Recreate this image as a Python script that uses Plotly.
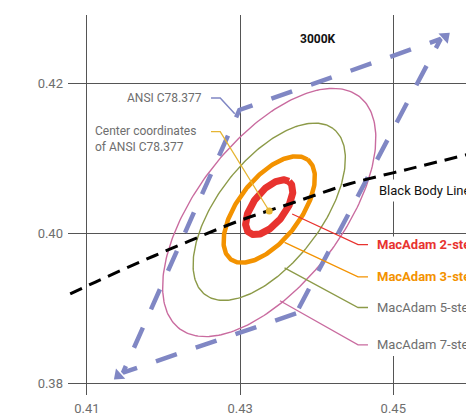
import numpy as np
import plotly.graph_objects as go

# MacAdam ellipse at 3000K (1-step), CIE 1931 xy
center_x = 0.4338
center_y = 0.4030
ell_a = 0.00278
ell_b = 0.00136
ell_theta = 53.22

# ellipses as drawn (outer to inner)
ell_names = ["MacAdam 7-step", "MacAdam 5-step", "MacAdam 3-step", "MacAdam 2-step"]
ell_steps = [7, 5, 3, 1.55]
ell_cy = [0.4028, 0.4029, 0.4032, 0.4035]
ell_colors = ["#c96b9f", "#8c9a48", "#f39200", "#e8332f"]
ell_widths = [1.4, 1.4, 4.5, 7]

# ANSI C78.377 quadrangle, 3000K
quad_x = [0.4373, 0.4147, 0.4299, 0.4562, 0.4373]
quad_y = [0.3893, 0.3814, 0.4165, 0.4260, 0.3893]
arrow_x = [0.4568, 0.4141]
arrow_y = [0.4263, 0.3810]

# Planckian locus (3500K .. 2700K)
bb_x = [0.4053, 0.4111, 0.4172, 0.4234, 0.4299, 0.4369, 0.4442, 0.4520, 0.4599]
bb_y = [0.3907, 0.3935, 0.3963, 0.3990, 0.4017, 0.4041, 0.4066, 0.4086, 0.4106]

# leader lines for the right-hand labels
lead_x = [[0.4368, 0.4454, 0.4467],
          [0.4358, 0.4454, 0.4467],
          [0.4358, 0.4454, 0.4467],
          [0.4352, 0.4454, 0.4467]]
lead_y = [[0.4026, 0.3985, 0.3985],
          [0.3988, 0.3942, 0.3942],
          [0.3954, 0.3901, 0.3901],
          [0.3910, 0.3851, 0.3851]]
lead_colors = ["#e8332f", "#f39200", "#8c9a48", "#c96b9f"]
lead_labels = ["MacAdam 2-step", "MacAdam 3-step", "MacAdam 5-step", "MacAdam 7-step"]
lead_text_colors = ["#e8332f", "#f39200", "#6e6e6e", "#6e6e6e"]

ansi_lead_x = [0.4262, 0.4274, 0.4293]
ansi_lead_y = [0.4181, 0.4181, 0.4160]
cen_lead_x = [0.4262, 0.4274, 0.4338]
cen_lead_y = [0.4136, 0.4136, 0.4030]

fig = go.Figure()

t = np.linspace(0, 2 * np.pi, 241)
th = np.radians(ell_theta)
for n, cy, col, w in zip(ell_steps, ell_cy, ell_colors, ell_widths):
    ex = center_x + n * (ell_a * np.cos(th) * np.cos(t) - ell_b * np.sin(th) * np.sin(t))
    ey = cy + n * (ell_a * np.sin(th) * np.cos(t) + ell_b * np.cos(th) * np.sin(t))
    fig.add_trace(go.Scatter(x=ex, y=ey, mode="lines",
                             line=dict(color=col, width=w), hoverinfo="skip"))

fig.add_trace(go.Scatter(x=quad_x, y=quad_y, mode="lines",
                         line=dict(color="#8087c4", width=4.5, dash="22px,20px")))
fig.add_trace(go.Scatter(x=arrow_x, y=arrow_y, mode="markers",
                         marker=dict(symbol="triangle-up", size=12, color="#8087c4",
                                     angle=[48, 228])))

fig.add_trace(go.Scatter(x=bb_x, y=bb_y, mode="lines", line_shape="spline",
                         line=dict(color="black", width=3, dash="13px,8px")))

for lx, ly, col in zip(lead_x, lead_y, lead_colors):
    fig.add_trace(go.Scatter(x=lx, y=ly, mode="lines", line=dict(color=col, width=1.3)))

fig.add_trace(go.Scatter(x=ansi_lead_x, y=ansi_lead_y, mode="lines",
                         line=dict(color="#8087c4", width=1.5)))
fig.add_trace(go.Scatter(x=cen_lead_x, y=cen_lead_y, mode="lines",
                         line=dict(color="#e6b533", width=1.3)))
fig.add_trace(go.Scatter(x=[center_x], y=[center_y], mode="markers",
                         marker=dict(color="#e6b533", size=7)))

# white box behind the right-hand labels
fig.add_shape(type="rect", x0=0.44725, x1=0.4600, y0=0.3836, y1=0.3996,
              fillcolor="white", line_width=0, layer="above")

for lab, ly, col in zip(lead_labels, lead_y, lead_text_colors):
    bold = col != "#6e6e6e"
    fig.add_annotation(x=0.44765, y=ly[-1], text=f"<b>{lab}</b>" if bold else lab,
                       showarrow=False, xanchor="left", yanchor="middle",
                       font=dict(size=13, color=col))

fig.add_annotation(x=0.44765, y=0.4057, text="Black Body Line", showarrow=False,
                   xanchor="left", yanchor="middle", bgcolor="white", borderpad=3,
                   font=dict(size=13, color="#111111"))
fig.add_annotation(x=0.4402, y=0.4260, text="<b>3000K</b>", showarrow=False,
                   font=dict(size=12, color="#111111"))
fig.add_annotation(x=0.42529, y=0.4181, text="ANSI C78.377", showarrow=False,
                   xanchor="right", yanchor="middle", font=dict(size=12, color="#6e6e6e"))
fig.add_annotation(x=0.41078, y=0.4126, text="Center coordinates<br>of ANSI C78.377",
                   showarrow=False, xanchor="left", yanchor="middle", align="left",
                   font=dict(size=12, color="#6e6e6e"))

fig.update_layout(
    width=466, height=419,
    margin=dict(l=68, r=0, t=15, b=24),
    plot_bgcolor="white", paper_bgcolor="white",
    showlegend=False,
    font=dict(family="Roboto", size=13, color="#6e6e6e"),
)
fig.update_xaxes(range=[0.40752, 0.4595], tickvals=[0.41, 0.43, 0.45],
                 ticktext=["0.41", "0.43", "0.45"], showgrid=True,
                 gridcolor="#555555", gridwidth=1.4, zeroline=False, showline=False,
                 ticks="", ticklabelstandoff=4)
fig.update_yaxes(range=[0.3784, 0.4292], tickvals=[0.38, 0.40, 0.42],
                 ticktext=["0.38", "0.40", "0.42"], showgrid=True,
                 gridcolor="#555555", gridwidth=1.4, zeroline=False, showline=False,
                 ticks="", ticklabelstandoff=4)

# drop the default 8px page margin so the figure fills the window exactly
fig.write_html("out.html", config={"displayModeBar": False},
               post_script="document.body.style.margin = '0';")
